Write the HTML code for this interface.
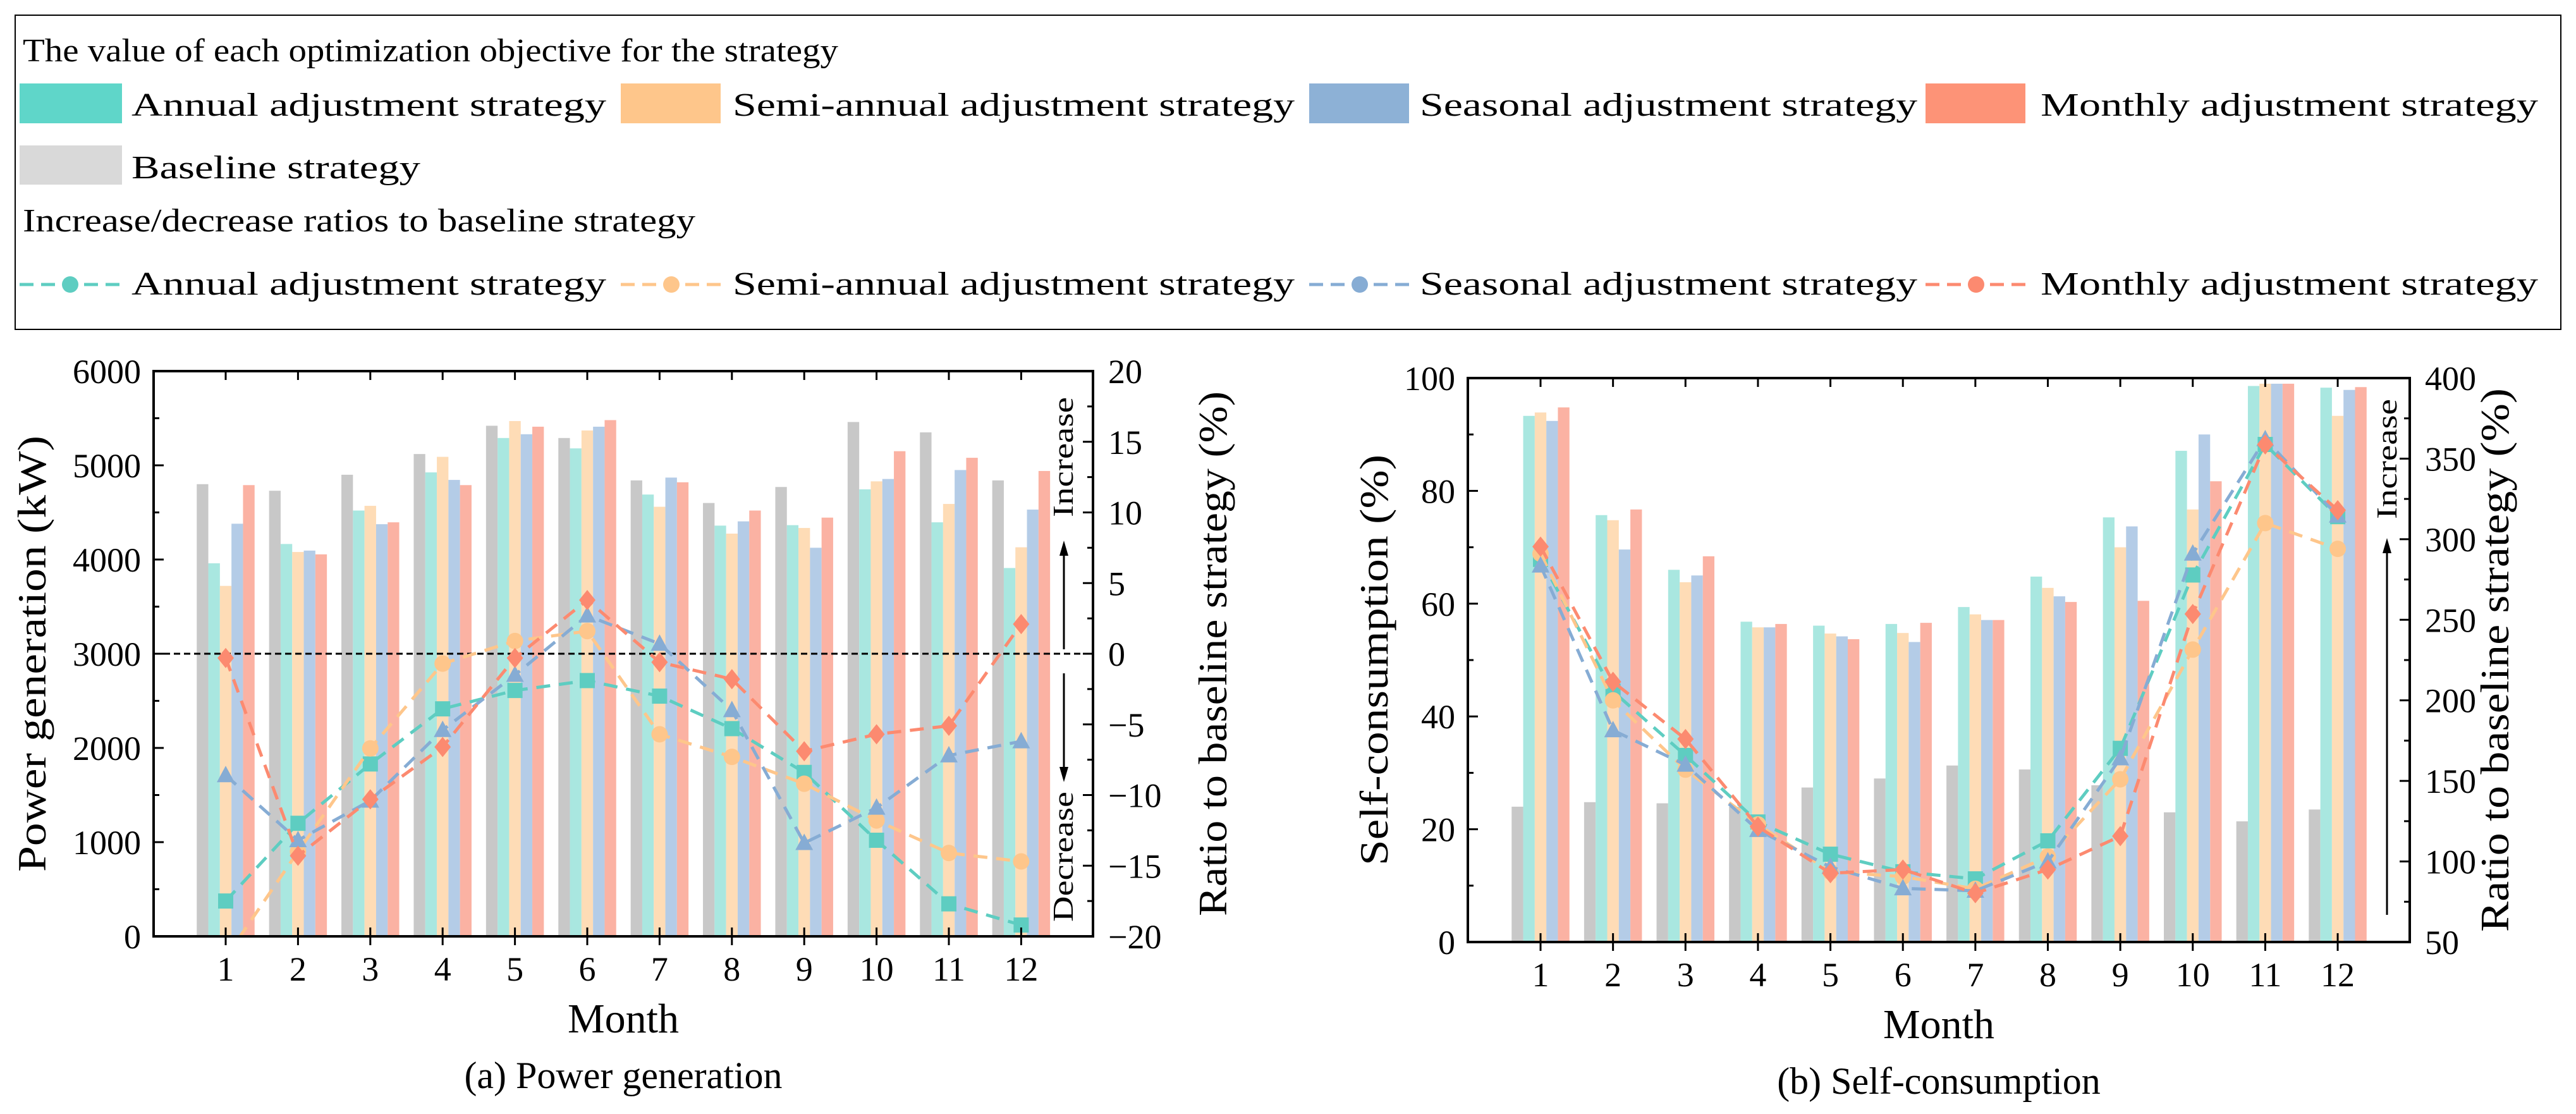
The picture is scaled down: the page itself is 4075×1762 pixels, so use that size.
<!DOCTYPE html>
<html><head><meta charset="utf-8"><style>
html,body{margin:0;padding:0;background:#fff}
svg{display:block;font-family:"Liberation Serif",serif}
</style></head><body>
<svg id="fig" width="4075" height="1762" viewBox="0 0 4075 1762" xmlns="http://www.w3.org/2000/svg">
<defs>
<clipPath id="clipL"><rect x="243" y="587" width="1486" height="894"/></clipPath>
<clipPath id="clipR"><rect x="2322" y="598" width="1490" height="892"/></clipPath>
</defs>
<g>
<rect x="24" y="24" width="4027" height="497" fill="#fff" stroke="#000" stroke-width="2"/>
<text x="36" y="97" font-size="52" textLength="1290" lengthAdjust="spacingAndGlyphs">The value of each optimization objective for the strategy</text>
<rect x="31" y="132" width="162" height="63" fill="#5fd6c9"/>
<text x="208" y="183" font-size="52" textLength="751" lengthAdjust="spacingAndGlyphs">Annual adjustment strategy</text>
<rect x="982" y="132" width="158" height="63" fill="#fec68b"/>
<text x="1159" y="183" font-size="52" textLength="889" lengthAdjust="spacingAndGlyphs">Semi-annual adjustment strategy</text>
<rect x="2071" y="132" width="158" height="63" fill="#8db1d6"/>
<text x="2246" y="183" font-size="52" textLength="787" lengthAdjust="spacingAndGlyphs">Seasonal adjustment strategy</text>
<rect x="3046" y="132" width="158" height="63" fill="#fd9377"/>
<text x="3228" y="183" font-size="52" textLength="787" lengthAdjust="spacingAndGlyphs">Monthly adjustment strategy</text>
<rect x="31" y="230" width="162" height="62" fill="#d9d9d9"/>
<text x="208" y="282" font-size="52" textLength="457" lengthAdjust="spacingAndGlyphs">Baseline strategy</text>
<text x="36" y="366" font-size="52" textLength="1064" lengthAdjust="spacingAndGlyphs">Increase/decrease ratios  to baseline strategy</text>
<g id="lineLegend"></g>
<text x="208" y="466" font-size="52" textLength="751" lengthAdjust="spacingAndGlyphs">Annual adjustment strategy</text>
<text x="1159" y="466" font-size="52" textLength="889" lengthAdjust="spacingAndGlyphs">Semi-annual adjustment strategy</text>
<text x="2246" y="466" font-size="52" textLength="787" lengthAdjust="spacingAndGlyphs">Seasonal adjustment strategy</text>
<text x="3228" y="466" font-size="52" textLength="787" lengthAdjust="spacingAndGlyphs">Monthly adjustment strategy</text>
</g>
<g id="chartL"></g>
<g id="chartR"></g>
</svg>
<script>
const months = [1,2,3,4,5,6,7,8,9,10,11,12];
// Power generation (kW)
const pgBaseline = [4800,4730,4900,5120,5420,5290,4840,4600,4770,5460,5350,4840];
const pgAnnual   = [3960,4165,4520,4925,5290,5180,4690,4360,4365,4745,4395,3910];
const pgSemi     = [3720,4080,4570,5090,5470,5370,4560,4275,4335,4830,4590,4130];
const pgSeasonal = [4380,4095,4375,4845,5330,5410,4870,4405,4125,4855,4950,4530];
const pgMonthly  = [4790,4055,4395,4790,5410,5480,4820,4520,4445,5150,5080,4940];
// Ratio to baseline (%) – power generation
const prAnnual   = [-17.5,-12,-7.8,-3.9,-2.6,-1.9,-3.0,-5.3,-8.4,-13.2,-17.7,-19.2];
const prSemi     = [-21.5,-14,-6.7,-0.7,0.9,1.6,-5.7,-7.3,-9.2,-11.8,-14.1,-14.7];
const prSeasonal = [-8.6,-13.2,-10.4,-5.4,-1.5,2.7,0.7,-4.0,-13.4,-10.9,-7.2,-6.2];
const prMonthly  = [-0.3,-14.3,-10.3,-6.6,-0.3,3.8,-0.6,-1.8,-6.9,-5.7,-5.1,2.1];
// Self-consumption (%)
const scBaseline = [24,24.8,24.6,24,27.4,29,31.3,30.6,27.8,23,21.4,23.5];
const scAnnual   = [93.3,75.7,66,56.8,56.1,56.4,59.4,64.8,75.3,87.1,98.6,98.3];
const scSemi     = [93.9,74.8,63.8,55.8,54.7,54.8,58.1,62.8,70,76.7,99,93.3];
const scSeasonal = [92.4,69.6,65,55.8,54.2,53.2,57.1,61.3,73.7,90,99,97.9];
const scMonthly  = [94.8,76.7,68.4,56.4,53.7,56.6,57.1,60.3,60.5,81.7,99,98.4];
// Ratio to baseline (%) – self-consumption
const srAnnual   = [287.5,205.6,165.8,124.5,104.5,93.6,89.2,112.8,170.2,277.8,358.8,314];
const srSemi     = [291,200,157,123,93.6,90.6,83,103,151,231.5,310,294];
const srSeasonal = [283.6,181.4,160,119.5,96.6,83.3,81.8,100,164,291,362,314.6];
const srMonthly  = [295.4,211.5,176,121.6,92.7,95,80.3,95,115.7,253.6,358.8,318];
const leftTicks = [0,1000,2000,3000,4000,5000,6000];
const leftRTicks = [-20,-15,-10,-5,0,5,10,15,20];
const rightTicks = [0,20,40,60,80,100];
const rightRTicks = [50,100,150,200,250,300,350,400];

const NS="http://www.w3.org/2000/svg";
function mk(parent,tag,attrs,text){const e=document.createElementNS(NS,tag);for(const k in attrs)e.setAttribute(k,attrs[k]);if(text!==undefined)e.textContent=text;parent.appendChild(e);return e;}
const barCols=["#c8c8c8","#a9e7e0","#fedcb6","#b4cce7","#fbb2a3"];
const lineCols=["#5ecdc1","#fec68b","#86acd4","#fc8a70"];
const mkNames=["annual","semiannual","seasonal","monthly"];
function marker(g,shape,x,y,c,name){
  let e;
  if(shape===0){e=mk(g,'rect',{x:x-12,y:y-12,width:24,height:24,fill:c});}
  else if(shape===1){e=mk(g,'circle',{cx:x,cy:y,r:13,fill:c});}
  else if(shape===2){e=mk(g,'path',{d:`M${x},${y-15}L${x+14},${y+11}L${x-14},${y+11}Z`,fill:c});}
  else {e=mk(g,'path',{d:`M${x},${y-16}L${x+13},${y}L${x},${y+16}L${x-13},${y}Z`,fill:c});}
  
  
}
(function(){
  const g=document.getElementById('lineLegend');
  const xs=[31,982,2071,3046];
  for(let i=0;i<4;i++){
    const l=mk(g,'line',{x1:xs[i],y1:450,x2:xs[i]+160,y2:450,stroke:lineCols[i],'stroke-width':5,'stroke-dasharray':'22 12'});
    
    
    marker(g,1,xs[i]+80,450,lineCols[i],'legend-'+mkNames[i]);
  }
})();

function drawChart(cfg){
  const g=document.getElementById(cfg.id);
  const {x0,x1,y0,y1}=cfg;
  const xm=m=>cfg.mx0+(m-1)*cfg.step;
  const yL=v=>y0-(v-cfg.lmin)/(cfg.lmax-cfg.lmin)*(y0-y1);
  const yR=v=>y0-(v-cfg.rmin)/(cfg.rmax-cfg.rmin)*(y0-y1);
  const bw=18.3;
  const bg=mk(g,'g',{});
  
  
  cfg.bars.forEach((ser,si)=>{
    ser.forEach((v,mi)=>{
      const x=xm(months[mi])-2.5*bw+si*bw;
      const r=mk(bg,'rect',{x:x,y:yL(v),width:bw,height:y0-yL(v),fill:barCols[si]});
      
      
    });
  });
  if(cfg.zeroLine!==undefined){
    const z=mk(g,'line',{x1:x0,x2:x1,y1:yR(cfg.zeroLine),y2:yR(cfg.zeroLine),stroke:'#000','stroke-width':3,'stroke-dasharray':'10 6'});
    
    
  }
  const lg=mk(g,'g',{'clip-path':`url(#${cfg.clip})`});
  
  
  cfg.lines.forEach((ser,si)=>{
    const pts=ser.map((v,mi)=>xm(months[mi])+','+yR(v)).join(' ');
    const pl=mk(lg,'polyline',{points:pts,fill:'none',stroke:lineCols[si],'stroke-width':5,'stroke-dasharray':'22 14'});
    
    
    ser.forEach((v,mi)=>marker(lg,si,xm(months[mi]),yR(v),lineCols[si],mkNames[si]+'-m'+months[mi]));
  });
  const fr=mk(g,'rect',{x:x0,y:y1,width:x1-x0,height:y0-y1,fill:'none',stroke:'#000','stroke-width':4});
  
  
  months.forEach(m=>{
    const x=xm(m);
    mk(g,'line',{x1:x,x2:x,y1:y0-14,y2:y0+14,stroke:'#000','stroke-width':3});
    mk(g,'line',{x1:x,x2:x,y1:y1,y2:y1+14,stroke:'#000','stroke-width':3});
    const t=mk(g,'text',{x:x,y:y0+70,'font-size':54,'text-anchor':'middle'},m);
    
    
  });
  cfg.lticks.forEach((v,i)=>{
    const y=yL(v);
    mk(g,'line',{x1:x0,x2:x0+16,y1:y,y2:y,stroke:'#000','stroke-width':3});
    if(i<cfg.lticks.length-1){const ym=yL(v+(cfg.lticks[1]-cfg.lticks[0])/2);mk(g,'line',{x1:x0,x2:x0+9,y1:ym,y2:ym,stroke:'#000','stroke-width':3});}
    const t=mk(g,'text',{x:x0-20,y:y+19,'font-size':54,'text-anchor':'end'},v);
    
    
  });
  cfg.rticks.forEach((v,i)=>{
    const y=yR(v);
    mk(g,'line',{x1:x1,x2:x1-16,y1:y,y2:y,stroke:'#000','stroke-width':3});
    if(i<cfg.rticks.length-1){const ym=yR(v+(cfg.rticks[1]-cfg.rticks[0])/2);mk(g,'line',{x1:x1,x2:x1-9,y1:ym,y2:ym,stroke:'#000','stroke-width':3});}
    const t=mk(g,'text',{x:x1+24,y:y+19,'font-size':54},String(v).replace('-','\u2212'));
    
    
  });
  const cx=(x0+x1)/2;
  let t=mk(g,'text',{x:cx,y:y0+152,'font-size':66,'text-anchor':'middle'},'Month');
  
  
  t=mk(g,'text',{x:cx,y:y0+240,'font-size':60,'text-anchor':'middle'},cfg.caption);
  
  
  t=mk(g,'text',{x:0,y:0,'font-size':64,'text-anchor':'middle',transform:`translate(${cfg.ltx},${(y0+y1)/2}) rotate(-90)`,textLength:cfg.ltLen,lengthAdjust:'spacingAndGlyphs'},cfg.ltitle);
  
  
  t=mk(g,'text',{x:0,y:0,'font-size':64,'text-anchor':'middle',transform:`translate(${cfg.rtx},${(y0+y1)/2}) rotate(-90)`,textLength:cfg.rtLen,lengthAdjust:'spacingAndGlyphs'},'Ratio to baseline strategy (%)');
  
  
  cfg.annot(g);
}
function arrow(g,x,ya,yb,name){
  const l=mk(g,'line',{x1:x,x2:x,y1:ya,y2:yb+(yb<ya?14:-14),stroke:'#000','stroke-width':3});
  
  
  const d=yb<ya?1:-1;
  mk(g,'path',{d:`M${x},${yb}L${x-7},${yb+d*24}L${x+7},${yb+d*24}Z`,fill:'#000'});
}
function vtext(g,x,yc,str,len,name){
  const t=mk(g,'text',{x:0,y:0,'font-size':46,'text-anchor':'middle',transform:`translate(${x},${yc}) rotate(-90)`,textLength:len,lengthAdjust:'spacingAndGlyphs'},str);
  
  
}
drawChart({id:'chartL',clip:'clipL',x0:243,x1:1729,y0:1481,y1:587,mx0:357,step:114.4,
  lmin:0,lmax:6000,rmin:-20,rmax:20,lticks:leftTicks,rticks:leftRTicks,
  bars:[pgBaseline,pgAnnual,pgSemi,pgSeasonal,pgMonthly],barNames:['baseline','annual','semiannual','seasonal','monthly'],
  lines:[prAnnual,prSemi,prSeasonal,prMonthly],zeroLine:0,
  caption:'(a) Power generation',ltitle:'Power generation (kW)',ltx:72,ltLen:690,rtx:1940,rtLen:830,
  annot:g=>{vtext(g,1697,723,'Increase',190,'increase-label');arrow(g,1683,1027,855,'increase-arrow');
            vtext(g,1697,1355,'Decrease',206,'decrease-label');arrow(g,1683,1065,1237,'decrease-arrow');}});
drawChart({id:'chartR',clip:'clipR',x0:2322,x1:3812,y0:1490,y1:598,mx0:2437,step:114.64,
  lmin:0,lmax:100,rmin:50,rmax:400,lticks:rightTicks,rticks:rightRTicks,
  bars:[scBaseline,scAnnual,scSemi,scSeasonal,scMonthly],barNames:['baseline','annual','semiannual','seasonal','monthly'],
  lines:[srAnnual,srSemi,srSeasonal,srMonthly],
  caption:'(b) Self-consumption',ltitle:'Self-consumption  (%)',ltx:2195,ltLen:650,rtx:3968,rtLen:860,
  annot:g=>{vtext(g,3791,726,'Increase',190,'increase-label-b');arrow(g,3776,1447,851,'increase-arrow-b');}});
</script>
</body></html>
